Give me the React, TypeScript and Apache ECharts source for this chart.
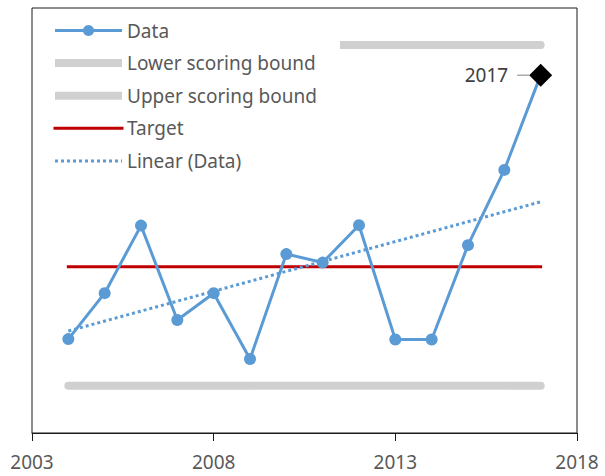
import React, { useEffect, useRef } from "react";
import * as echarts from "echarts";

const years = [2004, 2005, 2006, 2007, 2008, 2009, 2010, 2011, 2012, 2013, 2014, 2015, 2016, 2017];
const dataValues = [22.1, 32.9, 48.8, 26.6, 32.9, 17.4, 42.1, 40.1, 48.9, 22.0, 22.0, 44.2, 61.9, 84.2];
const boundYears = [2004, 2017];
const lowerBound = [11.1, 11.1];
const upperBound = [91.3, 91.3];
const target = [39.1, 39.1];
const trendValues = [24.0, 54.4];
const highlightYear = 2017;
const highlightValue = 84.2;
const xTicks = { min: 2003, max: 2018, interval: 5 };

const FONT = "'Segoe UI', 'Noto Sans', sans-serif";
const TEXT = "#595959";
const BLUE = "#5B9BD5";
const GRAY = "#D0D0D0";
const RED = "#C00000";

export default function App() {
  const ref = useRef<HTMLDivElement>(null);
  useEffect(() => {
    if (!ref.current) return;
    const chart = echarts.init(ref.current, undefined, { renderer: "svg" });
    const pair = (ys: number[]) => boundYears.map((x, i) => [x, ys[i]]);
    const hidden = { opacity: 0, borderWidth: 0 };
    chart.setOption({
      animation: false,
      textStyle: { fontFamily: FONT },
      grid: {
        left: 32,
        right: 28,
        top: 8,
        bottom: 43,
        show: true,
        borderColor: "#1a1a1a",
        borderWidth: 1,
        backgroundColor: "#fff",
      },
      legend: {
        orient: "vertical",
        left: 41,
        top: 15,
        padding: [6, 23, 6, 10],
        backgroundColor: "#fff",
        itemWidth: 67,
        itemHeight: 14,
        itemGap: 13.6,
        textStyle: { color: TEXT, fontSize: 19, fontFamily: FONT },
        data: [
          { name: "Data", lineStyle: { width: 3, color: BLUE }, itemStyle: { color: BLUE } },
          { name: "Lower scoring bound", lineStyle: { width: 8, color: GRAY, cap: "butt" }, itemStyle: hidden },
          { name: "Upper scoring bound", lineStyle: { width: 8, color: GRAY, cap: "butt" }, itemStyle: hidden },
          { name: "Target", lineStyle: { width: 3, color: RED }, itemStyle: hidden },
          { name: "Linear (Data)", lineStyle: { width: 3, color: BLUE, type: [3, 3] }, itemStyle: hidden },
        ],
      },
      xAxis: {
        type: "value",
        min: xTicks.min,
        max: xTicks.max,
        interval: xTicks.interval,
        axisLine: { show: true, lineStyle: { color: "#1a1a1a", width: 1 } },
        axisTick: { show: true, length: 8, lineStyle: { color: "#1a1a1a" } },
        splitLine: { show: false },
        axisLabel: {
          color: TEXT,
          fontSize: 19,
          fontFamily: FONT,
          margin: 19,
          formatter: (v: number) => String(v),
        },
      },
      yAxis: {
        type: "value",
        min: 0,
        max: 100,
        show: false,
        splitLine: { show: false },
      },
      series: [
        {
          name: "Lower scoring bound",
          type: "line",
          data: pair(lowerBound),
          symbol: "none",
          lineStyle: { color: GRAY, width: 8, cap: "round" },
          itemStyle: { color: GRAY },
          z: 1,
        },
        {
          name: "Upper scoring bound",
          type: "line",
          data: pair(upperBound),
          symbol: "none",
          lineStyle: { color: GRAY, width: 8, cap: "round" },
          itemStyle: { color: GRAY },
          z: 1,
        },
        {
          name: "Target",
          type: "line",
          data: pair(target),
          symbol: "none",
          lineStyle: { color: RED, width: 3, cap: "square" },
          itemStyle: { color: RED },
          z: 2,
        },
        {
          name: "Linear (Data)",
          type: "line",
          data: pair(trendValues),
          symbol: "none",
          lineStyle: { color: BLUE, width: 3, type: [3, 3] },
          itemStyle: { color: BLUE },
          z: 2,
        },
        {
          name: "Data",
          type: "line",
          data: years.map((y, i) => [y, dataValues[i]]),
          symbol: "circle",
          symbolSize: 12,
          showAllSymbol: true,
          lineStyle: { color: BLUE, width: 3 },
          itemStyle: { color: BLUE },
          z: 3,
        },
        {
          name: "Highlight",
          type: "scatter",
          data: [[highlightYear, highlightValue]],
          symbol: "diamond",
          symbolSize: 23,
          itemStyle: { color: "#000", opacity: 1 },
          z: 4,
          label: {
            show: true,
            position: "left",
            distance: 0,
            formatter: "{t|2017}{l| }",
            rich: {
              t: {
                color: "#404040",
                fontSize: 19,
                fontFamily: FONT,
                padding: [0, 9, 0, 0],
                verticalAlign: "middle",
              },
              l: {
                width: 12,
                height: 1,
                backgroundColor: "#808080",
                verticalAlign: "middle",
                fontSize: 1,
              },
            },
          },
        },
      ],
    });
    return () => chart.dispose();
  }, []);
  return (
    <div
      ref={ref}
      style={{ position: "fixed", left: 0, top: 0, width: 605, height: 476, background: "#fff" }}
    />
  );
}
